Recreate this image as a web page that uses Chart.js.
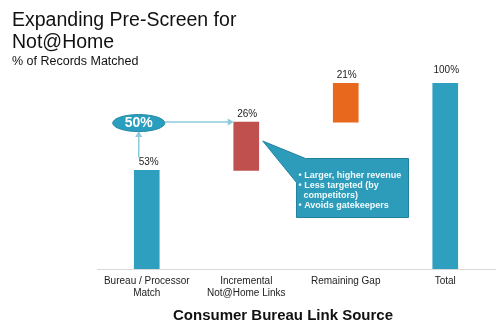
<!DOCTYPE html>
<html>
<head>
<meta charset="utf-8">
<script src="https://cdn.jsdelivr.net/npm/chart.js@4"></script>
<style>
  html, body { margin: 0; padding: 0; background: #fff; }
  #wrap { width: 500px; height: 333px; }
</style>
</head>
<body>
<div id="wrap"><canvas id="myChart"></canvas></div>
<script>
// chart data
const categories = [["Bureau / Processor", "Match"], ["Incremental", "Not@Home Links"], "Remaining Gap", "Total"];
const barStart = [0, 53, 79, 0];
const barEnd = [53, 79, 100, 100];
const valueLabels = ["53%", "26%", "21%", "100%"];
const barColors = ["#2E9FBF", "#C0504D", "#E8691E", "#2E9FBF"];
const calloutLines = ["• Larger, higher revenue", "• Less targeted (by", "  competitors)", "• Avoids gatekeepers"];

const FONT = "'Liberation Sans', Arial, sans-serif";

// titles, labels, ellipse and callout
const extras = {
  id: "extras",
  afterDraw(chart) {
    const ctx = chart.ctx;
    const x = chart.scales.x;
    const y = chart.scales.y;
    const bars = chart.getDatasetMeta(0).data;
    ctx.save();

    // titles
    ctx.fillStyle = "#111";
    ctx.textAlign = "left";
    ctx.textBaseline = "alphabetic";
    ctx.font = "19.5px " + FONT;
    ctx.fillText("Expanding Pre-Screen for", 12, 26);
    ctx.fillText("Not@Home", 12, 48);
    ctx.font = "12.5px " + FONT;
    ctx.fillText("% of Records Matched", 12, 65);

    // value labels above bars
    ctx.font = "10px " + FONT;
    ctx.textAlign = "center";
    ctx.fillStyle = "#222";
    valueLabels.forEach((lbl, i) => {
      const dx = i === 0 ? 2 : 1;
      const dy = i === 3 ? 10 : 5;
      ctx.fillText(lbl, x.getPixelForValue(i) + dx, y.getPixelForValue(barEnd[i]) - dy);
    });

    // axis title
    ctx.font = "bold 15px " + FONT;
    ctx.fillStyle = "#111";
    ctx.fillText("Consumer Bureau Link Source", 283, 320);

    // ellipse with arrows
    const ex = x.getPixelForValue(0) - 8;
    const ey = y.getPixelForValue(barEnd[1]);
    const barLeft = bars[1].x - bars[1].width / 2;
    const barRight = bars[1].x + bars[1].width / 2;
    ctx.strokeStyle = "#8CCBDD";
    ctx.fillStyle = "#8CCBDD";
    ctx.lineWidth = 1.5;
    // vertical arrow up from the 53% label
    const vTop = ey + 9;
    ctx.beginPath();
    ctx.moveTo(ex, y.getPixelForValue(barEnd[0]) - 13);
    ctx.lineTo(ex, vTop + 4);
    ctx.stroke();
    ctx.beginPath();
    ctx.moveTo(ex, vTop);
    ctx.lineTo(ex - 3.5, vTop + 6);
    ctx.lineTo(ex + 3.5, vTop + 6);
    ctx.closePath();
    ctx.fill();
    // horizontal arrow to the red bar
    ctx.beginPath();
    ctx.moveTo(ex + 26, ey);
    ctx.lineTo(barLeft - 4, ey);
    ctx.stroke();
    ctx.beginPath();
    ctx.moveTo(barLeft, ey);
    ctx.lineTo(barLeft - 6, ey - 3.5);
    ctx.lineTo(barLeft - 6, ey + 3.5);
    ctx.closePath();
    ctx.fill();

    ctx.beginPath();
    ctx.ellipse(ex, ey + 1, 26, 8.5, 0, 0, Math.PI * 2);
    ctx.fillStyle = "#2A9EBE";
    ctx.fill();
    ctx.strokeStyle = "#2488A4";
    ctx.lineWidth = 1;
    ctx.stroke();
    ctx.fillStyle = "#fff";
    ctx.font = "bold 14px " + FONT;
    ctx.textBaseline = "middle";
    ctx.fillText("50%", ex, ey + 1.5);

    // callout box with pointer to the red bar
    const bx = 296.5, by = 158.5, bw = 112, bh = 59;
    const tipX = barRight + 4, tipY = ey + 19;
    ctx.beginPath();
    ctx.moveTo(bx + 9, by);
    ctx.lineTo(tipX, tipY);
    ctx.lineTo(bx, by + 24);
    ctx.lineTo(bx, by + bh);
    ctx.lineTo(bx + bw, by + bh);
    ctx.lineTo(bx + bw, by);
    ctx.closePath();
    ctx.fillStyle = "#2C9CBA";
    ctx.fill();
    ctx.strokeStyle = "#23839F";
    ctx.lineWidth = 1;
    ctx.stroke();

    ctx.fillStyle = "#F2FAFC";
    ctx.textAlign = "left";
    ctx.textBaseline = "alphabetic";
    ctx.font = "bold 9px " + FONT;
    calloutLines.forEach((line, i) => {
      ctx.fillText(line, bx + 2, by + 19.5 + i * 10);
    });
    ctx.restore();
  }
};

const ctx = document.getElementById("myChart");

new Chart(ctx, {
  type: "bar",
  data: {
    labels: categories,
    datasets: [
      {
        data: barStart.map((s, i) => [s, barEnd[i]]),
        backgroundColor: barColors,
        barThickness: 25,
        borderWidth: 0,
      },
    ],
  },
  options: {
    responsive: true,
    maintainAspectRatio: false,
    animation: false,
    layout: { padding: { left: 97, right: 5, top: 83, bottom: 28 } },
    plugins: {
      legend: { display: false },
      tooltip: { enabled: false },
    },
    scales: {
      x: {
        grid: { display: false, drawTicks: false },
        border: { display: true, color: "#D9D9D9", width: 1 },
        ticks: {
          color: "#222",
          font: { family: FONT, size: 10 },
          padding: 6,
          maxRotation: 0,
          autoSkip: false,
        },
      },
      y: {
        display: false,
        min: 0,
        max: 100,
      },
    },
  },
  plugins: [extras],
});
</script>
</body>
</html>
